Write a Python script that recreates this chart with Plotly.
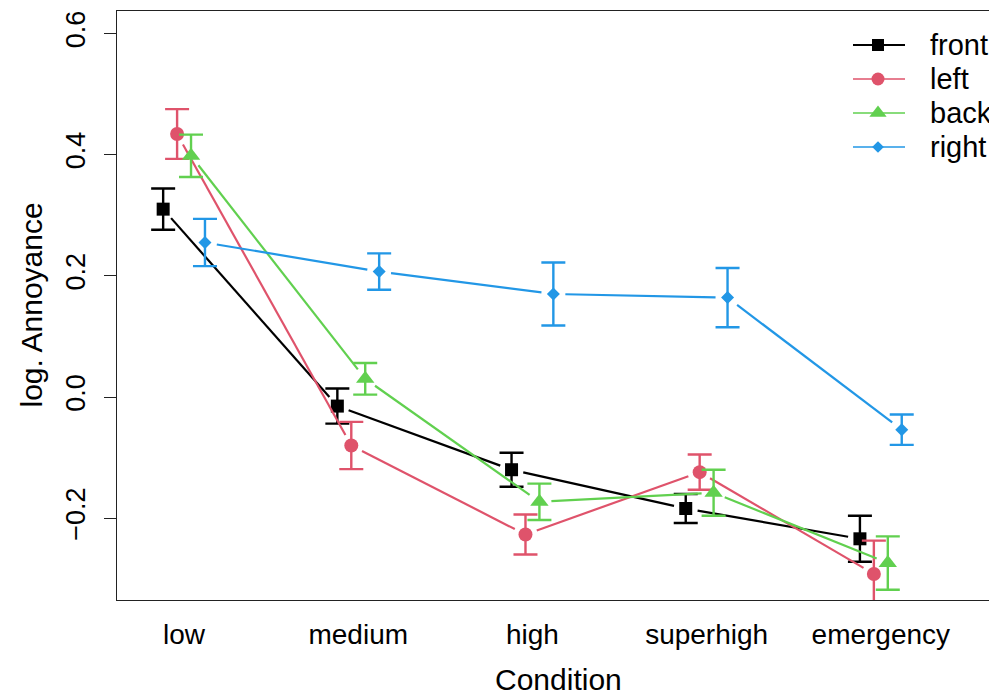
import plotly.graph_objects as go

# Mean log annoyance per condition and loudspeaker position, with CI half-widths
conditions = ["low", "medium", "high", "superhigh", "emergency"]
positions = ["front", "left", "back", "right"]

front_mean = [0.310, -0.015, -0.120, -0.184, -0.234]
front_err = [0.034, 0.029, 0.028, 0.024, 0.038]
left_mean = [0.434, -0.080, -0.227, -0.124, -0.292]
left_err = [0.041, 0.039, 0.033, 0.029, 0.055]
back_mean = [0.398, 0.030, -0.173, -0.158, -0.274]
back_err = [0.035, 0.026, 0.030, 0.038, 0.044]
right_mean = [0.255, 0.207, 0.170, 0.164, -0.054]
right_err = [0.039, 0.030, 0.052, 0.049, 0.025]

means = [front_mean, left_mean, back_mean, right_mean]
errs = [front_err, left_err, back_err, right_err]
colors = ["#000000", "#DF536B", "#61D04F", "#2297E6"]
symbols = ["square", "circle", "triangle-up", "diamond"]
msizes = [13, 14, 16, 10]
dodge = [-0.12, -0.04, 0.04, 0.12]

# Figure geometry (pixels)
W, H = 989, 694
L, T, B = 117, 11, 94
PW, PH = W - L, H - T - B
XR = [-0.385, 4.621]
YR = [-0.335, 0.637]
GAP = 12  # gap between a point and its connecting line (R type="b")


def to_px(x, y):
    return (L + (x - XR[0]) / (XR[1] - XR[0]) * PW,
            T + (YR[1] - y) / (YR[1] - YR[0]) * PH)


def from_px(px, py):
    return (XR[0] + (px - L) / PW * (XR[1] - XR[0]),
            YR[1] - (py - T) / PH * (YR[1] - YR[0]))


def gapped_segments(xs, ys):
    sx, sy = [], []
    for i in range(len(xs) - 1):
        x0, y0 = to_px(xs[i], ys[i])
        x1, y1 = to_px(xs[i + 1], ys[i + 1])
        dx, dy = x1 - x0, y1 - y0
        d = (dx * dx + dy * dy) ** 0.5
        if d <= 2 * GAP:
            continue
        ux, uy = dx / d, dy / d
        a = from_px(x0 + ux * GAP, y0 + uy * GAP)
        b = from_px(x1 - ux * GAP, y1 - uy * GAP)
        sx += [a[0], b[0], None]
        sy += [a[1], b[1], None]
    return sx, sy


fig = go.Figure()
for k, name in enumerate(positions):
    xs = [i + dodge[k] for i in range(len(conditions))]
    sx, sy = gapped_segments(xs, means[k])
    fig.add_trace(go.Scatter(x=sx, y=sy, mode="lines",
                             line=dict(color=colors[k], width=2.2),
                             showlegend=False, hoverinfo="skip"))
    fig.add_trace(go.Scatter(
        x=xs, y=means[k], mode="markers", name=name,
        marker=dict(symbol=symbols[k], size=msizes[k], color=colors[k],
                    line=dict(width=0)),
        error_y=dict(type="data", array=errs[k], visible=True,
                     color=colors[k], thickness=2.4, width=12),
        showlegend=False))

# Legend drawn on a pixel-space overlay axis
LEG_X0, LEG_X1, LEG_MX, LEG_TX = 853, 905, 878, 928
LEG_Y0, LEG_DY = 45, 34
leg_widths = [2.0, 1.4, 1.4, 1.4]
for k, name in enumerate(positions):
    ly = LEG_Y0 + k * LEG_DY
    fig.add_trace(go.Scatter(
        x=[LEG_X0, LEG_X1], y=[ly, ly], xaxis="x2", yaxis="y2",
        mode="lines", line=dict(color=colors[k], width=leg_widths[k]),
        showlegend=False, hoverinfo="skip"))
    fig.add_trace(go.Scatter(
        x=[LEG_MX], y=[ly], xaxis="x2", yaxis="y2", mode="markers",
        marker=dict(symbol=symbols[k], size=msizes[k] - 1, color=colors[k]),
        showlegend=False, hoverinfo="skip"))
    fig.add_annotation(x=LEG_TX, y=ly, xref="x2", yref="y2", text=name,
                       showarrow=False, xanchor="left", yanchor="middle",
                       font=dict(size=29, color="black"))

font = "Liberation Sans, Arial, sans-serif"
fig.update_layout(
    width=W, height=H,
    margin=dict(l=L, r=0, t=T, b=B, pad=0),
    paper_bgcolor="white", plot_bgcolor="white",
    font=dict(family=font, size=28, color="black"),
    showlegend=False,
    xaxis=dict(range=XR, tickmode="array",
               tickvals=list(range(len(conditions))), ticktext=conditions,
               ticks="", showgrid=False, zeroline=False,
               showline=True, mirror=True, linecolor="#222", linewidth=1.3,
               tickfont=dict(size=28), ticklabelstandoff=9),
    yaxis=dict(range=YR, tickmode="array",
               tickvals=[-0.2, 0.0, 0.2, 0.4, 0.6],
               ticktext=["\u22120.2", "0.0", "0.2", "0.4", "0.6"],
               ticks="outside", ticklen=12, tickwidth=1.3, tickcolor="#222",
               tickangle=-90, showgrid=False, zeroline=False,
               showline=True, mirror=False, linecolor="#222", linewidth=1.3,
               tickfont=dict(size=27), ticklabelstandoff=8),
    xaxis2=dict(range=[L, W], overlaying="x", visible=False, fixedrange=True),
    yaxis2=dict(range=[H - B, T], overlaying="y", visible=False,
                fixedrange=True),
)

fig.add_annotation(text="Condition", xref="paper", yref="paper",
                   x=(558 - L) / PW, y=-(679 - (H - B)) / PH,
                   showarrow=False, xanchor="center", yanchor="middle",
                   font=dict(size=30))
fig.add_annotation(text="log. Annoyance", xref="paper", yref="paper",
                   x=(31 - L) / PW, y=0.5, textangle=-90,
                   showarrow=False, xanchor="center", yanchor="middle",
                   font=dict(size=30))

fig.write_html("out.html")
